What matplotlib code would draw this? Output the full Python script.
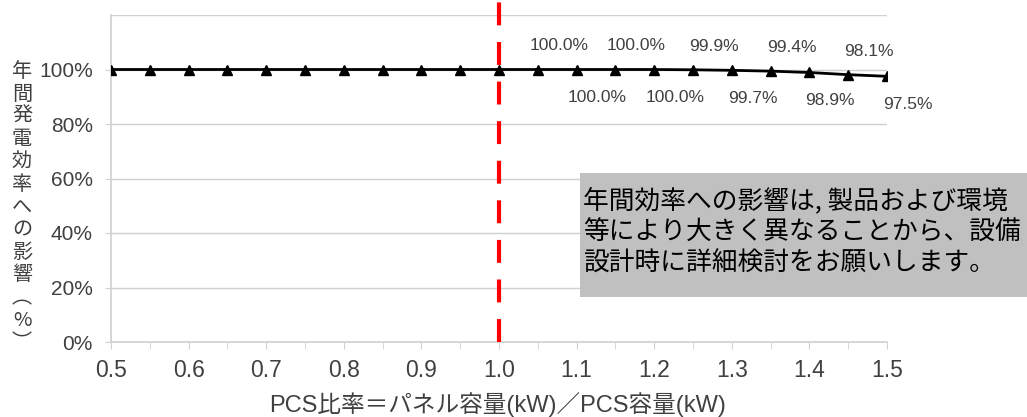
import numpy as np
import matplotlib.pyplot as plt
from matplotlib.patches import Rectangle

plt.rcParams['font.family'] = ['Liberation Sans', 'Noto Sans CJK JP', 'DejaVu Sans']

# PCS ratio vs annual generation efficiency (%)
ratio = [0.50, 0.55, 0.60, 0.65, 0.70, 0.75, 0.80, 0.85, 0.90, 0.95, 1.00,
         1.05, 1.10, 1.15, 1.20, 1.25, 1.30, 1.35, 1.40, 1.45, 1.50]
eff = [100.0, 100.0, 100.0, 100.0, 100.0, 100.0, 100.0, 100.0, 100.0, 100.0, 100.0,
       100.0, 100.0, 100.0, 100.0, 99.9, 99.7, 99.4, 98.9, 98.1, 97.5]
# labelled points (ratio > 1.0), alternating above / below the line
label_from = 11

xticks = [0.5, 0.6, 0.7, 0.8, 0.9, 1.0, 1.1, 1.2, 1.3, 1.4, 1.5]
yticks = [0, 20, 40, 60, 80, 100]

ylabel = "年間発電効率への影響︵%︶"
xlabel = "PCS比率＝パネル容量(kW)／PCS容量(kW)"
note = "年間効率への影響は, 製品および環境\n等により大きく異なることから、設備\n設計時に詳細検討をお願いします。"

txt = "#404040"
grid = "#d0d0d0"

fig = plt.figure(figsize=(10.27, 4.17), dpi=100)
ax = fig.add_axes([111 / 1027, 1 - 342 / 417, 776 / 1027, 327 / 417])

for y in [20, 40, 60, 80, 100, 120]:
    ax.axhline(y, color=grid, lw=1, zorder=0)

ax.plot(ratio, eff, color="black", lw=2, marker="^", ms=7, zorder=3)

for i in range(label_from, len(ratio)):
    up = (i - label_from) % 2 == 0
    ax.annotate(f"{eff[i]:.1f}%", (ratio[i], eff[i]),
                xytext=(15, 17 if up else -20), textcoords="offset points",
                ha="center", va="center", fontsize=12.5, color=txt)

# red dashed marker at ratio 1.0
ax.axvline(1.0, ymin=0, ymax=1.06, color="#ff0000", lw=3,
           dashes=(5.5, 4), clip_on=False, zorder=4)

ax.set_xlim(0.5, 1.5)
ax.set_ylim(0, 120)
ax.set_xticks(xticks)
ax.set_xticklabels([f"{v:.1f}" for v in xticks], fontsize=16.5, color=txt)
ax.set_xticks(np.arange(0.55, 1.5, 0.1), minor=True)
ax.set_yticks(yticks)
ax.set_yticklabels([f"{v}%" for v in yticks], fontsize=15, color=txt)
ax.tick_params(axis="x", which="both", length=5, color=grid, pad=7)
ax.tick_params(axis="y", length=4, color=grid, pad=9)

for s in ["top", "right"]:
    ax.spines[s].set_visible(False)
for s in ["left", "bottom"]:
    ax.spines[s].set_color(grid)
    ax.spines[s].set_linewidth(1.2)

fig.text(22 / 1027, 1 - 207 / 417, "\n".join(ylabel), fontsize=14.5, color=txt,
         ha="center", va="center", linespacing=1.1,
         family=['Noto Sans CJK JP', 'DejaVu Sans'])
fig.text(498 / 1027, 1 - 405 / 417, xlabel, fontsize=17, color=txt,
         ha="center", va="center")

fig.add_artist(Rectangle((580 / 1027, 1 - 297 / 417), 447 / 1027, 124 / 417,
                         transform=fig.transFigure, facecolor="#c0c0c0",
                         edgecolor="none", zorder=5))
fig.text(583 / 1027, 1 - 232 / 417, note, fontsize=18.5, color="black",
         ha="left", va="center", linespacing=1.25, zorder=6,
         family=['Noto Sans CJK JP', 'DejaVu Sans'])

fig.savefig("out.png", dpi=100)
